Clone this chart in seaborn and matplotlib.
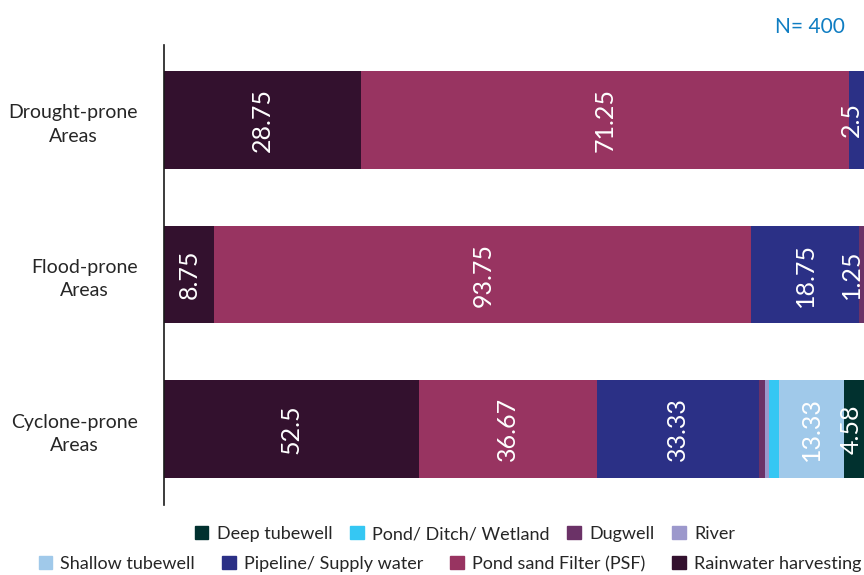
import numpy as np
import pandas as pd
import matplotlib
matplotlib.use("Agg")
import matplotlib.pyplot as plt
import matplotlib.patches as mpatches
import seaborn as sns

# Source shares per area (left-to-right stacking order)
areas = ["Drought-prone\nAreas", "Flood-prone\nAreas", "Cyclone-prone\nAreas"]
sources = ["Rainwater harvesting", "Pond sand Filter (PSF)", "Pipeline/ Supply water",
           "Dugwell", "River", "Pond/ Ditch/ Wetland", "Shallow tubewell", "Deep tubewell"]
rainwater = [28.75, 8.75, 52.5]
psf = [71.25, 93.75, 36.67]
pipeline = [2.5, 18.75, 33.33]
dugwell = [0, 1.25, 1.25]
river = [0, 0, 0.83]
pond = [0, 0, 2.08]
shallow = [0, 0, 13.33]
deep = [0, 0, 4.58]
colors = ["#33112e", "#983461", "#2b3086", "#6b3267", "#9c98cc", "#35c7f3", "#a0c9ea", "#01312f"]

legend_row1 = ["Deep tubewell", "Pond/ Ditch/ Wetland", "Dugwell", "River"]
legend_row2 = ["Shallow tubewell", "Pipeline/ Supply water", "Pond sand Filter (PSF)", "Rainwater harvesting"]

sns.set_style("white")
plt.rcParams["font.family"] = ["Lato", "DejaVu Sans"]

values = np.array([rainwater, psf, pipeline, dugwell, river, pond, shallow, deep])
totals = values.sum(axis=0)
shares = values / totals * 100  # each bar fills the full width
cum = np.cumsum(shares, axis=0)

fig = plt.figure(figsize=(8.64, 5.75), dpi=100)
ax = fig.add_axes([164 / 864, 70 / 575, 702 / 864, 460 / 575])

# draw cumulative bars from the rightmost segment back to the first
for i in range(len(sources) - 1, -1, -1):
    df = pd.DataFrame({"area": areas, "cum": cum[i]})
    sns.barplot(data=df, x="cum", y="area", orient="h", color=colors[i],
                width=0.632, saturation=1, linewidth=0, ax=ax)

# value labels (keep the last ones from running off the right edge)
for j in range(len(areas)):
    nz = np.nonzero(values[:, j])[0]
    for i in nz:
        v = values[i, j]
        if v < 2.5 and i != nz[-1]:
            continue
        xc = min(cum[i, j] - shares[i, j] / 2, 97.9)
        ax.text(xc, j, f"{v:g}", rotation=90, ha="center", va="center",
                color="white", fontsize=18)

ax.set_xlim(0, 100)
ax.set_ylim(2.49, -0.485)
ax.set_xlabel("")
ax.set_ylabel("")
ax.set_xticks([])
ax.set_yticks(range(len(areas)))
ax.set_yticklabels(areas, multialignment="center", fontsize=14, color="#262626",
                   linespacing=1.45)
ax.tick_params(axis="y", length=0, pad=19)
for s in ["top", "right", "bottom"]:
    ax.spines[s].set_visible(False)
ax.spines["left"].set_color("#1a1a1a")
ax.spines["left"].set_linewidth(1.2)

fig.text(845 / 864, 1 - 27 / 575, "N= 400", ha="right", va="center",
         color="#0f7dc2", fontsize=15)

def make_legend(labels, center, spacing):
    handles = [mpatches.Patch(color=colors[sources.index(l)], label=l) for l in labels]
    leg = fig.legend(handles=handles, loc="center", bbox_to_anchor=center, ncol=4,
                     frameon=False, fontsize=13, handlelength=0.75, handleheight=0.75,
                     handletextpad=0.45, columnspacing=spacing, borderaxespad=0)
    return leg

leg1 = make_legend(legend_row1, (465 / 864, 1 - 534 / 575), 1.0)
leg2 = make_legend(legend_row2, (450 / 864, 1 - 564 / 575), 1.5)

fig.savefig("out.png", dpi=100)
